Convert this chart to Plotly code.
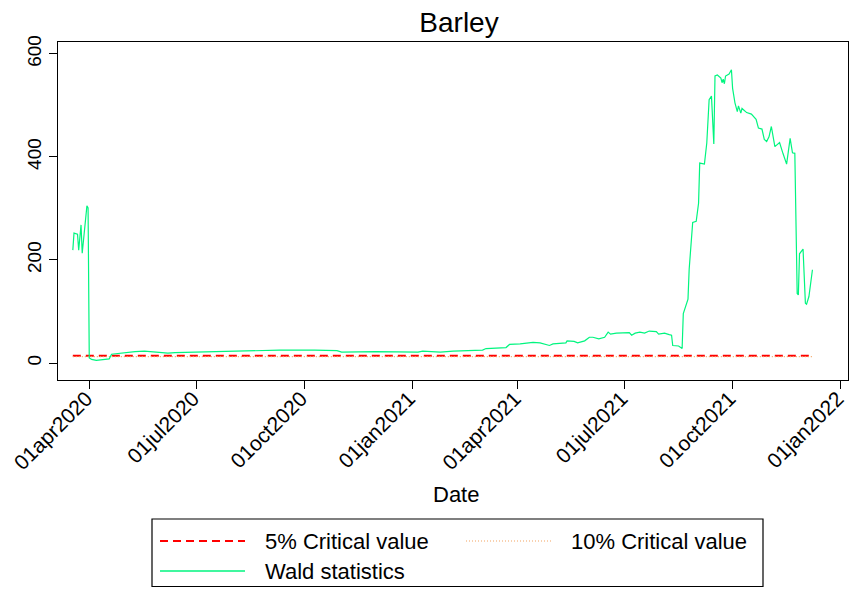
import plotly.graph_objects as go

# ---- data ----
dates = [
    "2020-03-18", "2020-03-19", "2020-03-22", "2020-03-23", "2020-03-25", "2020-03-26",
    "2020-03-30", "2020-03-31", "2020-04-01", "2020-04-03", "2020-04-07", "2020-04-14",
    "2020-04-18", "2020-04-20", "2020-04-28", "2020-05-03", "2020-05-10", "2020-05-18",
    "2020-05-27", "2020-06-07", "2020-06-13", "2020-07-21", "2020-08-15", "2020-09-10",
    "2020-10-10", "2020-10-29", "2020-11-02", "2020-12-01", "2021-01-06", "2021-01-10",
    "2021-01-25", "2021-02-05", "2021-03-02", "2021-03-05", "2021-03-22", "2021-03-25",
    "2021-04-03", "2021-04-14", "2021-04-20", "2021-04-24", "2021-04-28", "2021-05-01",
    "2021-05-06", "2021-05-12", "2021-05-13", "2021-05-19", "2021-05-22", "2021-05-28",
    "2021-06-01", "2021-06-04", "2021-06-09", "2021-06-14", "2021-06-17", "2021-06-19",
    "2021-06-24", "2021-07-05", "2021-07-07", "2021-07-10", "2021-07-14", "2021-07-18",
    "2021-07-22", "2021-07-28", "2021-07-30", "2021-08-04", "2021-08-08", "2021-08-10",
    "2021-08-11", "2021-08-16", "2021-08-19", "2021-08-20", "2021-08-24", "2021-08-25",
    "2021-08-28", "2021-08-31", "2021-09-02", "2021-09-03", "2021-09-07", "2021-09-09",
    "2021-09-11", "2021-09-13", "2021-09-15", "2021-09-16", "2021-09-18", "2021-09-21",
    "2021-09-22", "2021-09-23", "2021-09-24", "2021-09-25", "2021-09-28", "2021-09-30",
    "2021-10-01", "2021-10-03", "2021-10-05", "2021-10-06", "2021-10-08", "2021-10-09",
    "2021-10-13", "2021-10-17", "2021-10-21", "2021-10-23", "2021-10-26", "2021-10-28",
    "2021-10-30", "2021-11-01", "2021-11-03", "2021-11-06", "2021-11-10", "2021-11-12",
    "2021-11-13", "2021-11-16", "2021-11-19", "2021-11-21", "2021-11-23", "2021-11-25",
    "2021-11-26", "2021-11-27", "2021-11-30", "2021-12-02", "2021-12-03", "2021-12-05",
    "2021-12-08",
]
wald = [
    219, 252, 250, 219, 268, 213,
    305, 301, 10, 7, 5, 6,
    8, 17, 19, 21, 22, 23,
    21, 19, 20, 22, 23, 25,
    25, 24, 21, 22, 21, 23,
    21, 23, 25, 28, 30, 36,
    37, 40, 39, 37, 34, 37,
    38, 39, 43, 42, 39, 43,
    50, 50, 47, 50, 60, 56,
    58, 59, 54, 58, 60, 58,
    62, 61, 56, 58, 55, 54,
    34, 33, 28, 96, 124, 182,
    273, 275, 310, 388, 386, 427,
    511, 518, 425, 557, 559, 553,
    544, 551, 542, 557, 561, 569,
    533, 505, 488, 499, 485, 494,
    486, 483, 473, 456, 454, 434,
    430, 439, 459, 420, 428, 410,
    406, 386, 436, 408, 407, 135,
    132, 212, 221, 116, 114, 129,
    181,
]
crit_5 = 14.0
crit_10 = 12.5

x_tick_dates = ["2020-04-01", "2020-07-01", "2020-10-01", "2021-01-01",
                "2021-04-01", "2021-07-01", "2021-10-01", "2022-01-01"]
x_tick_labels = ["01apr2020", "01jul2020", "01oct2020", "01jan2021",
                 "01apr2021", "01jul2021", "01oct2021", "01jan2022"]
y_ticks = [0, 200, 400, 600]

series_names = ["5% Critical value", "10% Critical value", "Wald statistics"]

# ---- styles ----
FONT = "Liberation Sans, Arial, sans-serif"
RED = "#FF0000"
ORANGE = "#F4A460"
GREEN = "#00F57F"

# the page adds an 8px body margin on every side, so the figure must fit
# inside 857-16 by 596-16 pixels
W, H = 841, 580
L, R, T, B = 50, 1, 34, 208
pw, ph = W - L - R, H - T - B

fig = go.Figure()
fig.add_trace(go.Scatter(x=dates, y=[crit_5] * len(dates), mode="lines",
                         name=series_names[0],
                         line=dict(color=RED, width=2, dash="8px,5px")))
fig.add_trace(go.Scatter(x=dates, y=[crit_10] * len(dates), mode="lines",
                         name=series_names[1],
                         line=dict(color=ORANGE, width=1.2, dash="1px,2px")))
fig.add_trace(go.Scatter(x=dates, y=wald, mode="lines",
                         name=series_names[2],
                         line=dict(color=GREEN, width=1.2)))

fig.update_layout(
    autosize=False,
    width=W, height=H,
    margin=dict(l=L, r=R, t=T, b=B),
    paper_bgcolor="white", plot_bgcolor="white",
    showlegend=False,
    font=dict(family=FONT, color="black"),
    title=dict(text="Barley", x=451 / W, xanchor="center", y=1 - 14 / H, yanchor="middle",
               font=dict(size=28, family=FONT, color="black")),
)
fig.update_xaxes(
    type="date",
    range=["2020-03-05 09:00", "2022-01-07 07:00"],
    tickmode="array", tickvals=x_tick_dates, ticktext=x_tick_labels,
    tickangle=-45, tickfont=dict(size=21, family=FONT, color="black"),
    ticklabelstandoff=-11, ticklabelshift=-3,
    ticks="outside", ticklen=8, tickcolor="black", tickwidth=1.2,
    showline=True, linecolor="black", linewidth=1.2, mirror=True,
    showgrid=False, zeroline=False,
)
fig.update_yaxes(
    range=[-33, 623],
    tickmode="array", tickvals=y_ticks,
    tickangle=-90, tickfont=dict(size=19, family=FONT, color="black"),
    ticks="outside", ticklen=8, tickcolor="black", tickwidth=1.2,
    showline=True, linecolor="black", linewidth=1.2, mirror=True,
    showgrid=False, zeroline=False,
)


def px(xp):
    return (xp - L) / pw


def py(yp):
    return (H - B - yp) / ph


# axis title
fig.add_annotation(text="Date", xref="paper", yref="paper", x=px(448), y=py(486),
                   xanchor="center", yanchor="middle", showarrow=False,
                   font=dict(size=22, family=FONT, color="black"))

# ---- legend box drawn in paper space ----
fig.add_shape(type="rect", xref="paper", yref="paper",
              x0=px(144), x1=px(755), y0=py(511), y1=py(578.5),
              line=dict(color="black", width=1.2), fillcolor="white")
legend_items = [
    (series_names[0], RED, 2, "8px,5px", 152, 533),
    (series_names[1], ORANGE, 1.2, "1px,2px", 458, 533),
    (series_names[2], GREEN, 1.5, "solid", 152, 563),
]
for name, col, lw, dash, lx, ly in legend_items:
    fig.add_shape(type="line", xref="paper", yref="paper",
                  x0=px(lx), x1=px(lx + 85), y0=py(ly), y1=py(ly),
                  line=dict(color=col, width=lw, dash=dash))
    fig.add_annotation(text=name, xref="paper", yref="paper",
                       x=px(lx + 103), y=py(ly), xanchor="left", yanchor="middle",
                       showarrow=False, font=dict(size=22, family=FONT, color="black"))

fig.write_html("out.html")
